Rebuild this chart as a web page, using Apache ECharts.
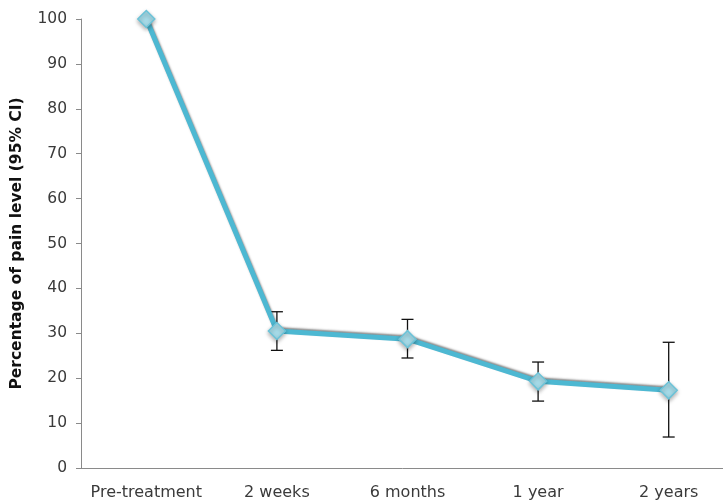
<!DOCTYPE html>
<html>
<head>
<meta charset="utf-8">
<script src="https://cdn.jsdelivr.net/npm/echarts@6/dist/echarts.min.js"></script>
<style>html,body{margin:0;padding:0;background:#fff}#c{width:723px;height:504px}</style>
</head>
<body>
<div id="c"></div>
<script>
// Pain level over follow-up, with 95% confidence intervals
var categories = ['Pre-treatment', '2 weeks', '6 months', '1 year', '2 years'];
var painLevel = [100, 30.5, 28.7, 19.3, 17.3];
var ciLow = [100, 26.2, 24.5, 14.9, 6.9];
var ciHigh = [100, 34.8, 33.1, 23.6, 28.0];
var yTicks = [0, 10, 20, 30, 40, 50, 60, 70, 80, 90, 100];

var font = '"DejaVu Sans", sans-serif';
var chart = echarts.init(document.getElementById('c'));

var ciData = categories.map(function (c, i) {
  return [i, ciLow[i], ciHigh[i]];
}).filter(function (d) { return d[1] !== d[2]; });

chart.setOption({
  animation: false,
  grid: { left: 81, right: -11, top: 19, bottom: 36, outerBoundsMode: 'none', containLabel: false },
  xAxis: {
    type: 'category',
    data: categories,
    boundaryGap: true,
    axisLine: { lineStyle: { color: '#8a8a8a', width: 1 } },
    axisTick: { alignWithLabel: true, inside: true, length: 4, lineStyle: { color: '#8a8a8a' } },
    axisLabel: { color: '#3a3a3a', fontSize: 16, fontFamily: font, margin: 17, interval: 0, hideOverlap: false },
  },
  yAxis: {
    type: 'value',
    min: 0, max: 100, interval: 10,
    name: 'Percentage of pain level (95% CI)',
    nameLocation: 'middle',
    nameGap: 56,
    nameTextStyle: { color: '#111', fontSize: 15.5, fontWeight: 'bold', fontFamily: font },
    axisLine: { show: true, lineStyle: { color: '#8a8a8a' } },
    axisTick: { show: true, length: 5, lineStyle: { color: '#8a8a8a' } },
    axisLabel: {
      color: '#3a3a3a', fontSize: 15.5, fontFamily: font, margin: 14,
      formatter: function (v) { return yTicks.indexOf(v) >= 0 ? String(v) : ''; }
    },
    splitLine: { show: false }
  },
  series: [
    {
      type: 'custom',
      z: 1,
      renderItem: function (params, api) {
        var x = api.value(0);
        var lo = api.coord([x, api.value(1)]);
        var hi = api.coord([x, api.value(2)]);
        var cap = 6;
        var st = { stroke: '#111', lineWidth: 1.3 };
        return {
          type: 'group',
          children: [
            { type: 'line', shape: { x1: lo[0], y1: lo[1], x2: hi[0], y2: hi[1] }, style: st },
            { type: 'line', shape: { x1: lo[0] - cap, y1: lo[1], x2: lo[0] + cap, y2: lo[1] }, style: st },
            { type: 'line', shape: { x1: hi[0] - cap, y1: hi[1], x2: hi[0] + cap, y2: hi[1] }, style: st }
          ]
        };
      },
      data: ciData
    },
    {
      type: 'line',
      z: 3,
      data: painLevel,
      symbol: 'diamond',
      symbolSize: 17,
      lineStyle: {
        color: '#4db8d2', width: 5,
        shadowColor: 'rgba(40,40,40,0.55)', shadowBlur: 2, shadowOffsetX: 0, shadowOffsetY: -1.5
      },
      itemStyle: {
        color: '#a6dbe8', borderColor: '#6cc3d8', borderWidth: 1.5,
        shadowColor: 'rgba(0,0,0,0.3)', shadowBlur: 4, shadowOffsetY: 2
      }
    }
  ]
});
</script>
</body>
</html>
